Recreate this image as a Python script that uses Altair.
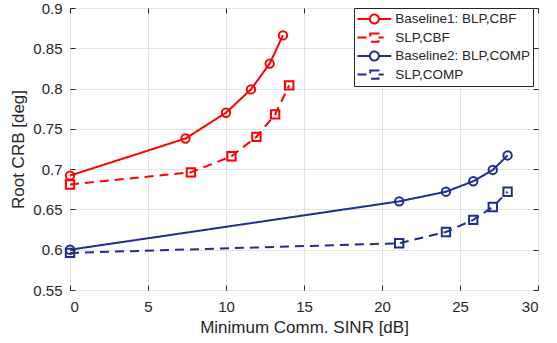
import altair as alt
import pandas as pd

series_names = ["Baseline1: BLP,CBF", "SLP,CBF", "Baseline2: BLP,COMP", "SLP,COMP"]
series_colors = ["#ff0000", "#ff0000", "#1f2e8e", "#1f2e8e"]

b1_x = [0, 7.4, 10.0, 11.6, 12.8, 13.65]
b1_y = [0.692, 0.738, 0.770, 0.799, 0.831, 0.866]
s1_x = [0, 7.75, 10.35, 11.95, 13.15, 14.05]
s1_y = [0.681, 0.696, 0.716, 0.740, 0.768, 0.804]
b2_x = [0, 21.1, 24.1, 25.85, 27.1, 28.05]
b2_y = [0.600, 0.660, 0.672, 0.685, 0.699, 0.717]
s2_x = [0, 21.1, 24.1, 25.85, 27.1, 28.05]
s2_y = [0.596, 0.608, 0.622, 0.637, 0.653, 0.672]

x_ticks = [0, 5, 10, 15, 20, 25, 30]
y_ticks = [0.55, 0.6, 0.65, 0.7, 0.75, 0.8, 0.85, 0.9]

rows = []
for name, xs, ys in zip(series_names, [b1_x, s1_x, b2_x, s2_x], [b1_y, s1_y, b2_y, s2_y]):
    for i, (xv, yv) in enumerate(zip(xs, ys)):
        rows.append({"series": name, "x": xv, "y": yv, "order": i,
                     "kind": "circle" if name.startswith("Baseline") else "square"})
df = pd.DataFrame(rows)

FONT = "Liberation Sans"
TXT = "#262626"

circle_path = "M-1,0H0.65 M1.85,0H3.5 M0.65,0A0.6,0.6 0 1,1 1.85,0A0.6,0.6 0 1,1 0.65,0"
square_path = "M-1,0H0.2 M0.7,-0.55H1.8V0.55H0.7Z M1.8,0H2.5"
sym_expr = "indexof(datum.value, 'SLP') == 0 ? '%s' : '%s'" % (square_path, circle_path)

legend = alt.Legend(title=None, orient="none", legendX=284, legendY=0,
                    direction="vertical",
                    symbolType=alt.ExprRef(expr=sym_expr),
                    symbolSize=225, symbolStrokeWidth=2,
                    symbolFillColor="transparent", symbolDash=[1, 0],
                    labelFont=FONT, labelFontSize=13.5, labelColor=TXT,
                    labelOffset=21.75, rowPadding=0.5, padding=2.5,
                    strokeColor=TXT, fillColor="white")

xscale = alt.Scale(domain=[0, 30], nice=False, zero=False)
yscale = alt.Scale(domain=[0.55, 0.9], nice=False, zero=False)
color_scale = alt.Scale(domain=series_names, range=series_colors)

x_axis = alt.Axis(values=x_ticks, title="Minimum Comm. SINR [dB]", grid=True, gridColor="#e3e3e3",
                  domain=False, offset=-5, tickSize=5, tickColor=TXT, labelPadding=9,
                  labelFont=FONT, labelFontSize=15, labelColor=TXT, titleFont=FONT,
                  titleFontSize=17, titleFontWeight="normal", titleColor=TXT, titlePadding=5)
y_axis = alt.Axis(values=y_ticks, format=".2~f", title="Root CRB [deg]", grid=True, gridColor="#e3e3e3",
                  domain=False, offset=-5, tickSize=5, tickColor=TXT, labelPadding=8,
                  labelFont=FONT, labelFontSize=15, labelColor=TXT, titleFont=FONT,
                  titleFontSize=17, titleFontWeight="normal", titleColor=TXT, titlePadding=5)
x_axis_top = alt.Axis(values=x_ticks, orient="top", labels=False, title=None, grid=False,
                      domain=False, offset=-5, tickSize=5, tickColor=TXT)
y_axis_right = alt.Axis(values=y_ticks, orient="right", labels=False, title=None, grid=False,
                        domain=False, offset=-5, tickSize=5, tickColor=TXT)

base = alt.Chart(df)

lines = base.mark_line(strokeWidth=2).encode(
    x=alt.X("x:Q", scale=xscale, axis=x_axis),
    y=alt.Y("y:Q", scale=yscale, axis=y_axis),
    color=alt.Color("series:N", scale=color_scale, legend=legend),
    strokeDash=alt.StrokeDash("series:N", scale=alt.Scale(domain=series_names,
                              range=[[1, 0], [9, 6], [1, 0], [9, 6]]), legend=None),
    order="order:Q",
    detail="series:N",
)

circles = base.transform_filter("datum.kind == 'circle'").mark_point(
    shape="circle", filled=False, size=70, strokeWidth=2, opacity=1).encode(
    x=alt.X("x:Q", scale=xscale, axis=x_axis_top),
    y=alt.Y("y:Q", scale=yscale, axis=y_axis_right),
    color=alt.Color("series:N", scale=color_scale, legend=legend),
)

squares = base.transform_filter("datum.kind == 'square'").mark_point(
    shape="square", filled=False, size=70, strokeWidth=2, opacity=1).encode(
    x=alt.X("x:Q", scale=xscale, axis=None),
    y=alt.Y("y:Q", scale=yscale, axis=None),
    color=alt.Color("series:N", scale=color_scale, legend=legend),
)

chart = alt.layer(lines, circles, squares).resolve_axis(
    x="independent", y="independent"
).properties(
    width=468, height=282,
    autosize=alt.AutoSizeParams(type="none"),
    padding={"left": 70, "top": 8, "right": 19, "bottom": 53},
    background="white",
).configure_view(stroke=TXT, strokeWidth=1)

chart.save("out.html", embed_options={"renderer": "svg", "actions": False})
